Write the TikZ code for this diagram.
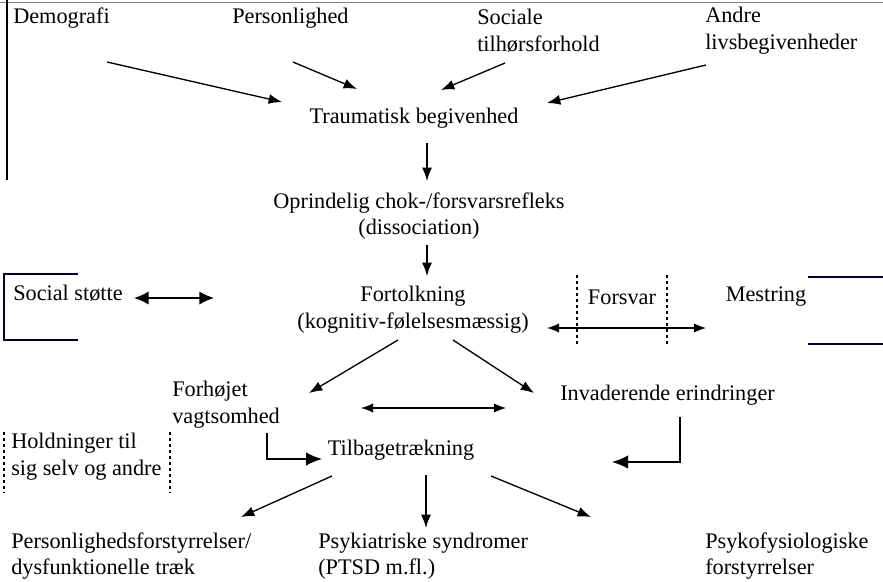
\documentclass[tikz,border=0pt]{standalone}
\usepackage{fontspec}
\setmainfont{Liberation Serif}
\usetikzlibrary{arrows.meta}
\begin{document}
\begin{tikzpicture}[x=0.75pt,y=-0.75pt,
  lbl/.style={inner sep=0pt,font=\fontsize{16.7}{20}\selectfont},
  arr/.style={-{Latex[length=10pt,width=7.5pt]},line width=1pt},
  darr/.style={{Latex[length=9pt,width=7pt]}-{Latex[length=9pt,width=7pt]},line width=0.9pt},
  bigdarr/.style={{Latex[length=11pt,width=10pt]}-{Latex[length=11pt,width=10pt]},line width=1.3pt},
  elbow/.style={-{Latex[length=12pt,width=10pt]},line width=1pt},
  frame/.style={line width=0.8pt,draw=black!75!blue},
  dots/.style={line width=0.8pt,dash pattern=on 2.5pt off 2pt}]
\useasboundingbox (0,0) rectangle (883,582);
% frame fragments
\draw[line width=0.6pt,draw=black!50] (0,2) coordinate (tl) -- (883,2) coordinate (tr);
\draw[line width=0.8pt] (7,0) coordinate (v1) -- (7,180) coordinate (v2);
% top row
\node[lbl,anchor=west] (demo) at (13,18) {Demografi};
\node[lbl,anchor=west] (pers) at (232,18) {Personlighed};
\node[lbl,anchor=west,align=left] (soc) at (477,31) {Sociale\\tilhørsforhold};
\node[lbl,anchor=west,align=left] (andre) at (705,31) {Andre\\livsbegivenheder};
\node[lbl] (trau) at (414,118) {Traumatisk begivenhed};
\coordinate (a1s) at (107,62); \coordinate (a1e) at (282,102);
\coordinate (a2s) at (293,62); \coordinate (a2e) at (357,89);
\coordinate (a3s) at (505,63); \coordinate (a3e) at (441,90);
\coordinate (a4s) at (706,65); \coordinate (a4e) at (547,103);
\draw[arr] (a1s) -- (a1e);
\draw[arr] (a2s) -- (a2e);
\draw[arr] (a3s) -- (a3e);
\draw[arr] (a4s) -- (a4e);
% chain
\node[lbl,align=center] (opr) at (419,216) {Oprindelig chok-/forsvarsrefleks\\(dissociation)};
\draw[arr] (427,143) coordinate (b1s) -- (427,181) coordinate (b1e);
\node[lbl,align=center] (fort) at (413,310) {Fortolkning\\(kognitiv-følelsesmæssig)};
\draw[arr] (427,245) coordinate (b2s) -- (427,276) coordinate (b2e);
% social stotte
\node[lbl,anchor=west] (ss) at (13,293) {Social støtte};
\draw[frame] (78,274) coordinate (s1) -- (4,274) -- (4,340) -- (78,340) coordinate (s2);
\draw[bigdarr] (134,298) coordinate (c1s) -- (214,298) coordinate (c1e);
% forsvar / mestring
\node[lbl] (forsvar) at (622,297) {Forsvar};
\draw[dots] (577,275) coordinate (d1) -- (577,344) coordinate (d2);
\draw[dots] (667,275) coordinate (d3) -- (667,344) coordinate (d4);
\draw[darr,line width=1pt] (547,328) coordinate (c2s) -- (706,328) coordinate (c2e);
\node[lbl] (mest) at (766,297) {Mestring};
\draw[frame] (808,277) coordinate (m1) -- (883,277);
\draw[frame] (808,344) coordinate (m2) -- (883,344);
% second level
\node[lbl,anchor=west,align=left] (forh) at (172,405) {Forhøjet\\vagtsomhed};
\node[lbl,anchor=west] (inv) at (560,395) {Invaderende erindringer};
\draw[arr] (398,340) coordinate (e1s) -- (309,393) coordinate (e1e);
\draw[arr] (453,340) coordinate (e2s) -- (534,393) coordinate (e2e);
\draw[darr] (361,408) coordinate (f1s) -- (506,408) coordinate (f1e);
% holdninger
\node[lbl,anchor=west,align=left] (hold) at (11,457) {Holdninger til\\sig selv og andre};
\draw[dots] (4,432) coordinate (h1) -- (4,493) coordinate (h2);
\draw[dots] (170,432) coordinate (h3) -- (170,493) coordinate (h4);
% tilbagetraekning
\node[lbl] (tilb) at (401,450) {Tilbagetrækning};
\draw[elbow] (267,433) coordinate (g1s) |- (322,459) coordinate (g1e);
\draw[elbow] (680,417) coordinate (g2s) |- (612,462) coordinate (g2e);
% outcomes
\draw[arr] (332,476) coordinate (k1s) -- (241,517) coordinate (k1e);
\draw[arr] (426,475) coordinate (k2s) -- (426,528) coordinate (k2e);
\draw[arr] (491,476) coordinate (k3s) -- (591,517) coordinate (k3e);
\node[lbl,anchor=west,align=left] (pf) at (11,556) {Personlighedsforstyrrelser/\\dysfunktionelle træk};
\node[lbl,anchor=west,align=left] (ps) at (318,556) {Psykiatriske syndromer\\(PTSD m.fl.)};
\node[lbl,anchor=west,align=left] (pk) at (705,556) {Psykofysiologiske\\forstyrrelser};
\end{tikzpicture}
\end{document}
